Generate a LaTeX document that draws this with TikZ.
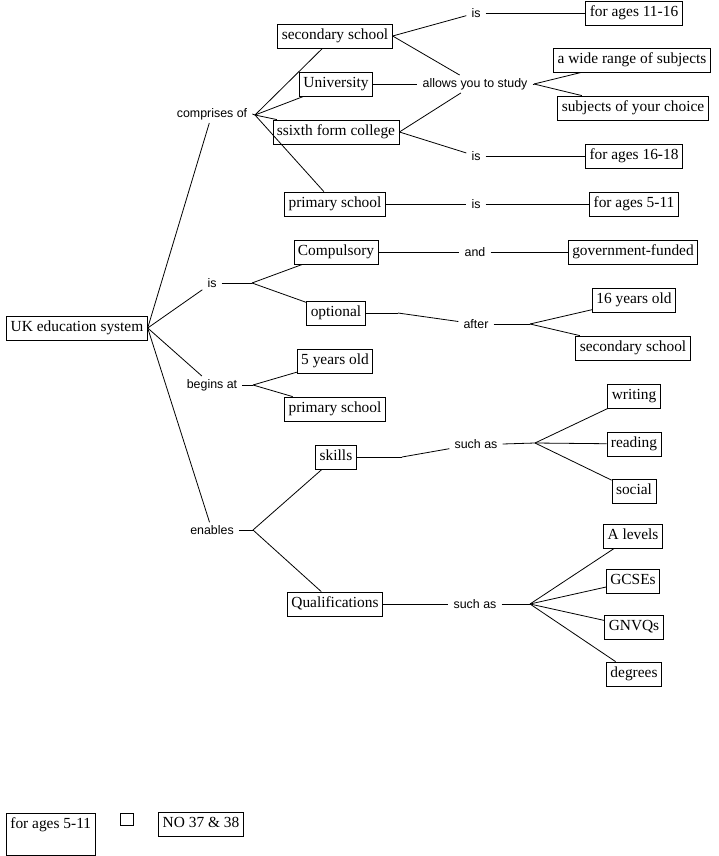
\documentclass[tikz,border=0pt]{standalone}
\usepackage{fontspec}
\setmainfont{Liberation Serif}
\newfontfamily\linkfont{Liberation Sans}
\begin{document}
\begin{tikzpicture}[x=1pt,y=-1pt,
    concept/.style={draw=black, line width=0.8pt, font=\fontsize{15.4}{18}\selectfont,
      inner xsep=4pt, inner ysep=4.5pt, text height=11pt, text depth=4pt},
    phrase/.style={font=\linkfont\fontsize{12.4}{14}\selectfont, inner xsep=5pt, inner ysep=3pt}]
  \useasboundingbox (0,0) rectangle (718,856);
  \begin{scope}[every node/.style={concept}]
    \node (uk) at (77,328) {UK education system};
    \node (sec) at (335,36) {secondary school};
    \node (uni) at (336,84) {University};
    \node (sixth) at (336,132) {ssixth form college};
    \node (prim) at (335,204) {primary school};
    \node (a1116) at (634,13) {for ages 11-16};
    \node (range) at (632,60) {a wide range of subjects};
    \node (choice) at (633,108) {subjects of your choice};
    \node (a1618) at (634,156) {for ages 16-18};
    \node (a511) at (634,204) {for ages 5-11};
    \node (comp) at (336,252) {Compulsory};
    \node (gov) at (633,252) {government-funded};
    \node (opt) at (336,313) {optional};
    \node (y16) at (634,300) {16 years old};
    \node (sec2) at (633,348) {secondary school};
    \node (y5) at (335,361) {5 years old};
    \node (prim2) at (335,409) {primary school};
    \node (writ) at (634,396) {writing};
    \node (read) at (634,444) {reading};
    \node (soc) at (634,491) {social};
    \node (skills) at (336,457) {skills};
    \node (qual) at (335,604) {Qualifications};
    \node (alev) at (633,536) {A levels};
    \node (gcse) at (633,581) {GCSEs};
    \node (gnvq) at (634,627) {GNVQs};
    \node (deg) at (634,674) {degrees};
    \node[text depth=22pt, anchor=north west] (lone) at (6,813) {for ages 5-11};
    \node[text height=0pt, text depth=0pt, inner sep=0pt, minimum width=13pt, minimum height=12pt] (blank) at (126.5,819) {};
    \node (note) at (201,824) {NO 37 \& 38};
  \end{scope}
  \begin{scope}[every node/.style={phrase}]
    \node (compof) at (212,114) {comprises of};
    \node (isA) at (476,13) {is};
    \node (allow) at (475,84) {allows you to study};
    \node (isB) at (476,156) {is};
    \node (isC) at (476,204) {is};
    \node (isM) at (212,283) {is};
    \node (and) at (475,252) {and};
    \node (after) at (476,324) {after};
    \node (begin) at (212,385) {begins at};
    \node (such1) at (476,444) {such as};
    \node (enab) at (212,530) {enables};
    \node (such2) at (475,604) {such as};
  \end{scope}
  \coordinate (compof-f) at (255,115);
  \coordinate (allow-f) at (534,84);
  \coordinate (isM-f) at (252,283);
  \coordinate (after-f) at (530,324);
  \coordinate (begin-f) at (253,385);
  \coordinate (such1-f) at (535,443);
  \coordinate (enab-f) at (253,530);
  \coordinate (such2-f) at (530,604);
  \coordinate (opt-b) at (398,313);
  \coordinate (skills-b) at (402,457);
  \begin{scope}[every edge/.style={draw=black, line width=0.8pt}]
    \path (uk.east) edge (compof);
    \path (uk.east) edge (isM);
    \path (uk.east) edge (begin);
    \path (uk.east) edge (enab);
    \path (compof.east) edge (compof-f);
    \path (compof-f) edge (sec);
    \path (compof-f) edge (uni);
    \path (compof-f) edge (sixth);
    \path (compof-f) edge (prim);
    \path (sec.east) edge (isA);
    \path (sec.east) edge (allow);
    \path (uni.east) edge (allow);
    \path (sixth.east) edge (allow);
    \path (sixth.east) edge (isB);
    \path (prim.east) edge (isC);
    \path (isA) edge (a1116);
    \path (isB) edge (a1618);
    \path (isC) edge (a511);
    \path (allow.east) edge (allow-f);
    \path (allow-f) edge (range);
    \path (allow-f) edge (choice);
    \path (isM.east) edge (isM-f);
    \path (isM-f) edge (comp);
    \path (isM-f) edge (opt);
    \path (comp.east) edge (and);
    \path (and) edge (gov);
    \path (opt.east) edge (opt-b);
    \path (opt-b) edge (after);
    \path (after.east) edge (after-f);
    \path (after-f) edge (y16);
    \path (after-f) edge (sec2);
    \path (begin.east) edge (begin-f);
    \path (begin-f) edge (y5);
    \path (begin-f) edge (prim2);
    \path (enab.east) edge (enab-f);
    \path (enab-f) edge (skills);
    \path (enab-f) edge (qual);
    \path (skills.east) edge (skills-b);
    \path (skills-b) edge (such1);
    \path (such1.east) edge (such1-f);
    \path (such1-f) edge (writ);
    \path (such1-f) edge (read);
    \path (such1-f) edge (soc);
    \path (qual.east) edge (such2);
    \path (such2.east) edge (such2-f);
    \path (such2-f) edge (alev);
    \path (such2-f) edge (gcse);
    \path (such2-f) edge (gnvq);
    \path (such2-f) edge (deg);
  \end{scope}
\end{tikzpicture}
\end{document}
